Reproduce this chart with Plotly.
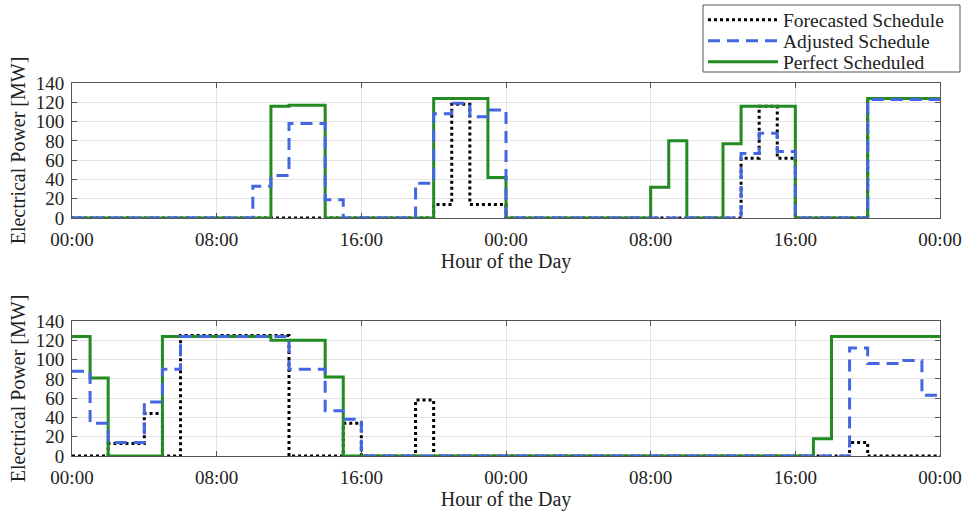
import plotly.graph_objects as go

hours = list(range(49))
tick_vals = [0, 8, 16, 24, 32, 40, 48]
tick_labels = ["00:00", "08:00", "16:00", "00:00", "08:00", "16:00", "00:00"]
y_ticks = [0, 20, 40, 60, 80, 100, 120, 140]

# Top panel (hourly values, 48 h)
top_forecast = [0]*20 + [14, 118, 14, 14] + [0]*13 + [62, 116, 62] + [0]*4 + [124]*4
top_adjusted = [0]*10 + [33, 44, 98, 98, 19] + [0]*4 + [36, 108, 119, 105, 112] + [0]*13 + [67, 88, 69] + [0]*4 + [123]*4
top_perfect = [0]*11 + [116, 117, 117] + [0]*6 + [124, 124, 124, 42] + [0]*8 + [32, 80, 0, 0, 77, 116, 116, 116] + [0]*4 + [124]*4

# Bottom panel
bot_forecast = [0, 0, 13, 13, 44, 0] + [125]*6 + [0, 0, 0, 34, 0, 0, 0, 58] + [0]*23 + [14, 0, 0, 0, 0]
bot_adjusted = [88, 34, 14, 14, 56, 90] + [124]*6 + [90, 90, 47, 38] + [0]*27 + [112, 96, 96, 99, 63]
bot_perfect = [124, 81, 0, 0, 0] + [124]*6 + [120, 120, 120, 82] + [0]*26 + [18] + [124]*6

names = ["Forecasted Schedule", "Adjusted Schedule", "Perfect Scheduled"]
BLACK = "#000000"
BLUE = "#4466E0"
GREEN = "#228B22"
FONT = "Liberation Serif"
TXT = "#222222"

def ext(v):
    return v + [v[-1]]

fig = go.Figure()
for row, (fc, adj, per) in enumerate([(top_forecast, top_adjusted, top_perfect),
                                       (bot_forecast, bot_adjusted, bot_perfect)]):
    xa = "x" if row == 0 else "x2"
    ya = "y" if row == 0 else "y2"
    show = row == 0
    fig.add_trace(go.Scatter(x=hours, y=ext(fc), mode="lines", line_shape="hv",
                             line=dict(color=BLACK, width=3, dash="3px,3px"),
                             name=names[0], legend="legend", showlegend=show, xaxis=xa, yaxis=ya))
    fig.add_trace(go.Scatter(x=hours, y=ext(per), mode="lines", line_shape="hv",
                             line=dict(color=GREEN, width=3),
                             name=names[2], legend="legend3", showlegend=show, xaxis=xa, yaxis=ya))
    fig.add_trace(go.Scatter(x=hours, y=ext(adj), mode="lines", line_shape="hv",
                             line=dict(color=BLUE, width=3, dash="12px,7px"),
                             name=names[1], legend="legend2", showlegend=show, xaxis=xa, yaxis=ya))

axis_common = dict(showline=True, linecolor="#555555", linewidth=1, mirror="ticks",
                   ticks="inside", ticklen=5, tickcolor="#555555",
                   showgrid=True, gridcolor="#e3e3e3", gridwidth=1, zeroline=False,
                   tickfont=dict(family=FONT, size=19, color=TXT))

xcommon = dict(axis_common, range=[0, 48], tickvals=tick_vals, ticktext=tick_labels,
               ticklabelstandoff=4,
               title=dict(text="Hour of the Day", font=dict(family=FONT, size=20, color=TXT), standoff=2))
ycommon = dict(axis_common, range=[0, 140], tickvals=y_ticks, ticklabelstandoff=3,
               title=dict(text="Electrical Power [MW]", font=dict(family=FONT, size=20, color=TXT), standoff=4))

W, H = 966, 511
L, R, T, B = 72, 26, 83, 55
pw = W - L - R
ph = H - T - B
def fy(y):
    return (H - B - y) / ph
def fx(x):
    return (x - L) / pw

def leg(yc):
    return dict(xref="container", yref="container", x=703 / W, y=1 - yc / H,
                xanchor="left", yanchor="middle", bgcolor="rgba(0,0,0,0)",
                borderwidth=0, itemwidth=70,
                font=dict(family=FONT, size=19.5, color=TXT))

fig.update_layout(
    width=W, height=H,
    margin=dict(l=L, r=R, t=T, b=B, autoexpand=False),
    paper_bgcolor="white", plot_bgcolor="white",
    font=dict(family=FONT, size=19, color=TXT),
    xaxis=dict(xcommon, domain=[0, 1], anchor="y"),
    yaxis=dict(ycommon, domain=[fy(218), 1], anchor="x"),
    xaxis2=dict(xcommon, domain=[0, 1], anchor="y2"),
    yaxis2=dict(ycommon, domain=[0, fy(321)], anchor="x2"),
    legend=leg(20), legend2=leg(41), legend3=leg(62),
    showlegend=True,
    shapes=[dict(type="rect", xref="paper", yref="paper",
                 x0=fx(703), x1=fx(960), y0=fy(72), y1=fy(5),
                 line=dict(color="#555555", width=1), fillcolor="white", layer="below")],
)

fig.write_html("out.html", post_script="document.body.style.margin='0px';",
               config={"displayModeBar": False})
